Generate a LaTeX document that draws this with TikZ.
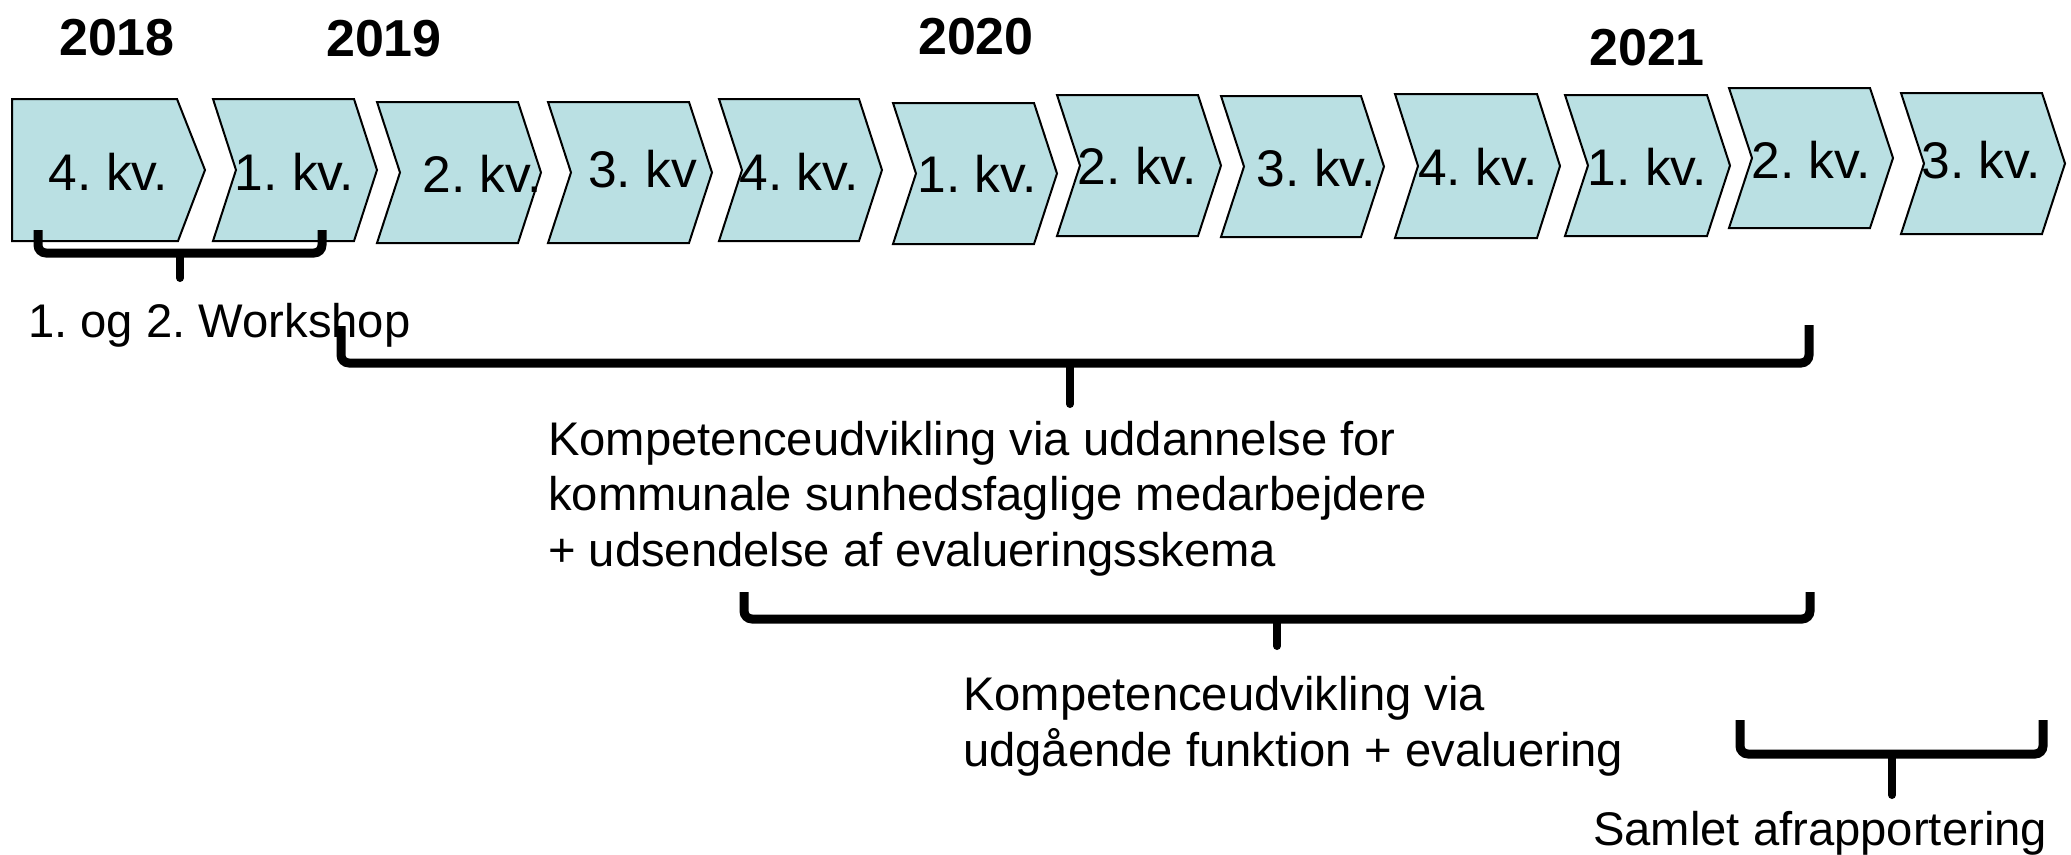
\documentclass[tikz,border=0pt]{standalone}
\usepackage{fontspec}
\setmainfont{Liberation Sans}
\frenchspacing
\definecolor{chevfill}{RGB}{186,224,227}
\tikzset{
  chevron/.style={draw=black, line width=2pt, fill=chevfill, line join=miter},
  kv/.style={font=\fontsize{51.5}{60}\selectfont, inner sep=0pt, anchor=base},
  year/.style={font=\fontsize{52}{60}\selectfont\bfseries, inner sep=0pt, anchor=base},
  body/.style={font=\fontsize{47.2}{55}\selectfont, inner sep=0pt, anchor=base west},
  bracket/.style={draw=black, line width=9pt, rounded corners=8pt, line cap=butt},
  tick/.style={draw=black, line width=8pt, line cap=round},
}
\begin{document}
\begin{tikzpicture}[x=1pt,y=-1pt]
\useasboundingbox (0,0) rectangle (2071,854);

% chevrons
\draw[chevron] (12,99) -- (177,99) -- (205,170) -- (178,241) -- (12,241) -- cycle;
\foreach \L/\T/\B/\X in {213/99/241/377, 377/102/243/541, 548/102/243/712,
  719/99/241/882, 893/103/244/1057, 1057/95/236/1221, 1221/96/237/1384,
  1395/94/238/1560, 1565/95/236/1730, 1729/88/228/1893, 1901/93/234/2065}{
  \draw[chevron] (\L,\T) -- (\X-23,\T) -- (\X,{(\T+\B)/2}) -- (\X-23,\B)
    -- (\L,\B) -- (\L+23,{(\T+\B)/2}) -- cycle;
}

% quarter labels
\node[kv] (q1)  at (108.5,190)  {4. kv.};
\node[kv] (q2)  at (294.6,190.7){1. kv.};
\node[kv] (q3)  at (482,192.7)  {2. kv.};
\node[kv] (q4)  at (642.5,187)  {3. kv};
\node[kv] (q5)  at (799,190.7)  {4. kv.};
\node[kv] (q6)  at (977,192.7)  {1. kv.};
\node[kv] (q7)  at (1137.5,184) {2. kv.};
\node[kv] (q8)  at (1316.5,186.7){3. kv.};
\node[kv] (q9)  at (1477.7,185) {4. kv.};
\node[kv] (q10) at (1647.5,185) {1. kv.};
\node[kv] (q11) at (1811,178.3) {2. kv.};
\node[kv] (q12) at (1981,178)   {3. kv.};

% years
\node[year] (y2018) at (117,55)   {2018};
\node[year] (y2019) at (384,56.5) {2019};
\node[year] (y2020) at (976,54)   {2020};
\node[year] (y2021) at (1647,65)  {2021};

% texts
\node[body] (ws)  at (28,337)    {1. og 2. Workshop};
\node[body] (k1a) at (548,455)   {Kompetenceudvikling via uddannelse for};
\node[body] (k1b) at (548,510.5) {kommunale sunhedsfaglige medarbejdere};
\node[body] (k1c) at (548,566)   {+ udsendelse af evalueringsskema};
\node[body] (k2a) at (963,710.7) {Kompetenceudvikling via};
\node[body] (k2b) at (963,766.7) {udgående funktion + evaluering};
\node[body] (sa)  at (1593,845)  {Samlet afrapportering};

% brackets
\draw[bracket] (38,230) -- (38,253) -- (322,253) -- (322,230);
\draw[tick] (180,253) -- (180,278);
\draw[bracket] (341,326) -- (341,363) -- (1809,363) -- (1809,325);
\draw[tick] (1070,363) -- (1070,404);
\draw[bracket] (744,592) -- (744,619) -- (1810,619) -- (1810,592);
\draw[tick] (1277,619) -- (1277,646);
\draw[bracket] (1740,720) -- (1740,754) -- (2043,754) -- (2043,720);
\draw[tick] (1892,754) -- (1892,795);
\end{tikzpicture}
\end{document}
